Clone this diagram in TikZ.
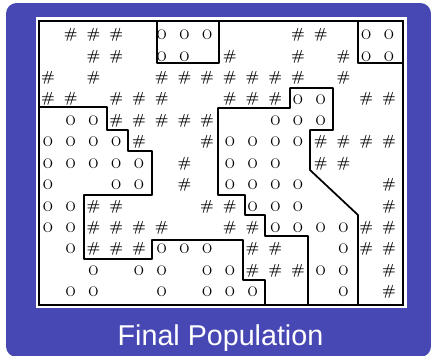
\documentclass[tikz,border=0pt]{standalone}
\usepackage{fontspec}
\usepackage{tikz}
\usepackage{xcolor}
\newfontfamily\capfont{Liberation Sans}
\definecolor{frameblue}{RGB}{72,72,180}

\begin{document}
\begin{tikzpicture}[x=0.75pt,y=-0.75pt,
  hsym/.style={inner sep=0pt,font=\bfseries\fontsize{11}{12}\selectfont},
  osym/.style={inner sep=0pt,font=\fontsize{16.5}{17}\selectfont},
  wall/.style={line width=1.3pt,line join=round,line cap=round}]
\useasboundingbox (0,0) rectangle (431,355);
\fill[frameblue,rounded corners=8] (6,3) rectangle (431,357);
\fill[white] (36,17) rectangle (407,308);
\draw[line width=1.5pt] (39,21) rectangle (403,305);
% row 0
\foreach \c in {1,2,3,11,12} \node[hsym] (h-0-\c) at ({48+22.73*\c},35) {\#};
\foreach \c in {5,6,7,14,15} \node[osym] (o-0-\c) at ({48+22.73*\c},35) {o};
% row 1
\foreach \c in {2,3,8,11,13} \node[hsym] (h-1-\c) at ({48+22.73*\c},56.4) {\#};
\foreach \c in {5,6,14,15} \node[osym] (o-1-\c) at ({48+22.73*\c},56.4) {o};
% row 2
\foreach \c in {0,2,5,6,7,8,9,10,11,13} \node[hsym] (h-2-\c) at ({48+22.73*\c},77.8) {\#};
% row 3
\foreach \c in {0,1,3,4,5,8,9,10,14,15} \node[hsym] (h-3-\c) at ({48+22.73*\c},99.3) {\#};
\foreach \c in {11,12} \node[osym] (o-3-\c) at ({48+22.73*\c},99.3) {o};
% row 4
\foreach \c in {3,4,5,6,7} \node[hsym] (h-4-\c) at ({48+22.73*\c},120.7) {\#};
\foreach \c in {1,2,10,11,12} \node[osym] (o-4-\c) at ({48+22.73*\c},120.7) {o};
% row 5
\foreach \c in {4,7,12,13,14,15} \node[hsym] (h-5-\c) at ({48+22.73*\c},142.1) {\#};
\foreach \c in {0,1,2,3,8,9,10,11} \node[osym] (o-5-\c) at ({48+22.73*\c},142.1) {o};
% row 6
\foreach \c in {6,12,13} \node[hsym] (h-6-\c) at ({48+22.73*\c},163.5) {\#};
\foreach \c in {0,1,2,3,4,8,9,10} \node[osym] (o-6-\c) at ({48+22.73*\c},163.5) {o};
% row 7
\foreach \c in {6,15} \node[hsym] (h-7-\c) at ({48+22.73*\c},185) {\#};
\foreach \c in {0,3,4,8,9,10,11} \node[osym] (o-7-\c) at ({48+22.73*\c},185) {o};
% row 8
\foreach \c in {2,3,7,8,15} \node[hsym] (h-8-\c) at ({48+22.73*\c},206.4) {\#};
\foreach \c in {0,1,9,10,11} \node[osym] (o-8-\c) at ({48+22.73*\c},206.4) {o};
% row 9
\foreach \c in {2,3,4,5,8,9,14,15} \node[hsym] (h-9-\c) at ({48+22.73*\c},227.8) {\#};
\foreach \c in {0,1,10,11,12,13} \node[osym] (o-9-\c) at ({48+22.73*\c},227.8) {o};
% row 10
\foreach \c in {2,3,4,9,10,14,15} \node[hsym] (h-10-\c) at ({48+22.73*\c},249.2) {\#};
\foreach \c in {1,5,6,7,13} \node[osym] (o-10-\c) at ({48+22.73*\c},249.2) {o};
% row 11
\foreach \c in {9,10,11,15} \node[hsym] (h-11-\c) at ({48+22.73*\c},270.6) {\#};
\foreach \c in {2,4,5,7,8,12,13} \node[osym] (o-11-\c) at ({48+22.73*\c},270.6) {o};
% row 12
\foreach \c in {15} \node[hsym] (h-12-\c) at ({48+22.73*\c},292) {\#};
\foreach \c in {1,2,5,7,8,9,13} \node[osym] (o-12-\c) at ({48+22.73*\c},292) {o};
% boundaries
\draw[wall] (157,21) -- (157,63) -- (219,63) -- (219,21);
\draw[wall] (358,21) -- (358,63) -- (403,63);
\draw[wall] (39,107) -- (107,107) -- (107,130) -- (128,130) -- (128,151) -- (152,151)
  -- (152,195) -- (84,195) -- (84,259) -- (152,259) -- (152,240) -- (243,240)
  -- (243,280) -- (265,280) -- (265,305);
\draw[wall] (308,305) -- (308,236) -- (265,236) -- (265,215) -- (245,215) -- (245,195)
  -- (218,195) -- (218,108) -- (290,108) -- (290,88) -- (333,88) -- (333,130)
  -- (310,130) -- (310,170) -- (358,215) -- (358,305);
\node[font=\capfont\fontsize{21.5}{24}\selectfont,text=white,anchor=base] (caption) at (220.5,345) {Final Population};
\end{tikzpicture}
\end{document}
